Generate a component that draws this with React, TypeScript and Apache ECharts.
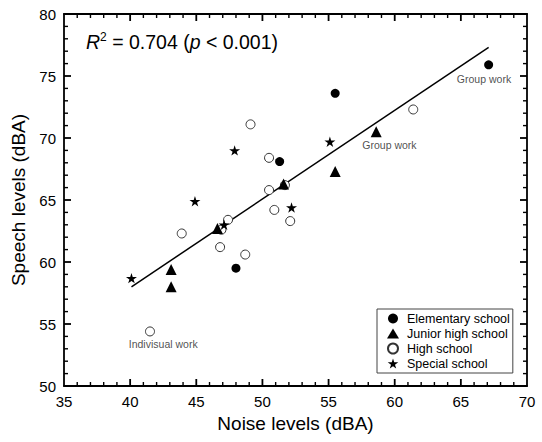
import React, { useEffect, useRef } from "react";
import * as echarts from "echarts";

// Data
const elementaryX = [67.1, 55.5, 51.3, 48.0];
const elementaryY = [75.9, 73.6, 68.1, 59.5];

const juniorX = [58.6, 55.5, 51.6, 46.6, 43.1, 43.1];
const juniorY = [70.5, 67.3, 66.3, 62.7, 59.4, 58.0];

const highX = [61.4, 49.1, 50.5, 50.5, 51.7, 50.9, 52.1, 47.4, 46.9, 43.9, 46.8, 48.7, 41.5];
const highY = [72.3, 71.1, 68.4, 65.8, 66.2, 64.2, 63.3, 63.4, 62.6, 62.3, 61.2, 60.6, 54.4];

const specialX = [55.1, 47.9, 44.9, 52.2, 47.1, 40.1];
const specialY = [69.7, 69.0, 64.9, 64.4, 63.0, 58.7];

const fitX = [40.1, 67.1];
const fitY = [58.0, 77.3];

const noteX = [66.75, 59.6, 42.5];
const noteY = [74.75, 69.4, 53.35];
const noteText = ["Group work", "Group work", "Indivisual work"];

const seriesNames = ["Elementary school", "Junior high school", "High school", "Special school"];

const xMin = 35, xMax = 70, yMin = 50, yMax = 80, step = 5, minorStep = 1;

const STAR = "path://M50,0 L61,35 L98,35 L68,57 L79,91 L50,70 L21,91 L32,57 L2,35 L39,35 Z";
const FONT = "Liberation Sans, Arial, sans-serif";

const zip = (xs: number[], ys: number[]) => xs.map((x, i) => [x, ys[i]]);
const isMajor = (v: number) => Math.abs(v / step - Math.round(v / step)) < 1e-6;

// inward ticks on all four sides, drawn as small rectangle symbols placed through the axes' scales
function buildTickSeries() {
  const bottom: any[] = [], top: any[] = [], left: any[] = [], right: any[] = [];
  for (let v = xMin + minorStep; v < xMax; v += minorStep) {
    const len = isMajor(v) ? 7 : 4;
    const w = isMajor(v) ? 1.8 : 1.4;
    bottom.push({ value: [v, yMin], symbolSize: [w, len], symbolOffset: [0, -len / 2] });
    top.push({ value: [v, yMax], symbolSize: [w, len], symbolOffset: [0, len / 2] });
  }
  for (let v = yMin + minorStep; v < yMax; v += minorStep) {
    const len = isMajor(v) ? 7 : 4;
    const w = isMajor(v) ? 1.8 : 1.4;
    left.push({ value: [xMin, v], symbolSize: [len, w], symbolOffset: [len / 2, 0] });
    right.push({ value: [xMax, v], symbolSize: [len, w], symbolOffset: [-len / 2, 0] });
  }
  return [bottom, top, left, right].map((data) => ({
    type: "scatter", data, symbol: "rect", silent: true, z: 2,
    itemStyle: { color: "#000", opacity: 1 },
  }));
}

function makeAxis(min: number, max: number, position: string, labels: boolean, extra: any = {}) {
  return {
    type: "value",
    min,
    max,
    interval: step,
    position,
    axisLine: { show: true, onZero: false, lineStyle: { color: "#000", width: 1.8 } },
    axisTick: { show: false },
    splitLine: { show: false },
    axisLabel: labels
      ? { show: true, color: "#000", fontSize: 15, fontFamily: FONT, margin: 8 }
      : { show: false },
    ...extra,
  };
}

export default function App() {
  const ref = useRef<HTMLDivElement>(null);
  useEffect(() => {
    document.body.style.margin = "0";
    if (!ref.current) return;
    const chart = echarts.init(ref.current, null, { renderer: "svg" });
    chart.setOption({
      animation: false,
      backgroundColor: "#fff",
      grid: { left: 64, right: 15, top: 14, bottom: 56 },
      xAxis: [
        makeAxis(xMin, xMax, "bottom", true, {
          name: "Noise levels (dBA)", nameLocation: "middle", nameGap: 28,
          nameTextStyle: { color: "#000", fontSize: 19, fontFamily: FONT },
        }),
        makeAxis(xMin, xMax, "top", false),
      ],
      yAxis: [
        makeAxis(yMin, yMax, "left", true, {
          name: "Speech levels (dBA)", nameLocation: "middle", nameGap: 27,
          nameTextStyle: { color: "#000", fontSize: 19, fontFamily: FONT },
        }),
        makeAxis(yMin, yMax, "right", false),
      ],
      legend: {
        orient: "vertical",
        left: 377, top: 309,
        padding: [3, 3, 3, 10],
        itemGap: 2,
        itemWidth: 12, itemHeight: 10,
        borderColor: "#444", borderWidth: 1,
        backgroundColor: "#fff",
        textStyle: { color: "#000", fontSize: 12.5, lineHeight: 13, fontFamily: FONT, padding: [0, 0, 0, 3] },
        data: seriesNames,
      },
      graphic: [
        {
          type: "text", left: 86, top: 31,
          style: {
            text: "{i|R}{s|2}{n| = 0.704 (}{i|p}{n| < 0.001)}",
            rich: {
              i: { fontSize: 19.5, fontStyle: "italic", fontFamily: FONT, fill: "#000" },
              n: { fontSize: 19.5, fontFamily: FONT, fill: "#000" },
              s: { fontSize: 12, fontFamily: FONT, fill: "#000", padding: [0, 0, 9, 0] },
            },
          },
        },
      ],
      series: [
        ...buildTickSeries(),
        {
          name: seriesNames[0], type: "scatter", data: zip(elementaryX, elementaryY),
          symbol: "circle", symbolSize: 9, itemStyle: { color: "#000", opacity: 1 }, z: 5,
        },
        {
          name: seriesNames[1], type: "scatter", data: zip(juniorX, juniorY),
          symbol: "triangle", symbolSize: 11, itemStyle: { color: "#000", opacity: 1 }, z: 5,
        },
        {
          name: seriesNames[2], type: "scatter", data: zip(highX, highY),
          symbol: "circle", symbolSize: 9,
          itemStyle: { color: "#fff", borderColor: "#333", borderWidth: 1, opacity: 1 }, z: 4,
        },
        {
          name: seriesNames[3], type: "scatter", data: zip(specialX, specialY),
          symbol: STAR, symbolSize: 11, symbolKeepAspect: true,
          itemStyle: { color: "#000", opacity: 1 }, z: 6,
        },
        {
          name: "fit", type: "line", data: zip(fitX, fitY), symbol: "none",
          lineStyle: { color: "#000", width: 1.5 }, z: 3,
        },
        {
          name: "notes", type: "scatter", symbolSize: 0, silent: true,
          data: noteX.map((x, i) => ({ value: [x, noteY[i]], name: noteText[i] })),
          label: {
            show: true, position: "inside", formatter: (p: any) => p.name,
            color: "#222", fontSize: 10.5, fontFamily: FONT,
          },
        },
      ],
    });
    return () => chart.dispose();
  }, []);
  return <div ref={ref} style={{ width: 542, height: 442 }} />;
}
